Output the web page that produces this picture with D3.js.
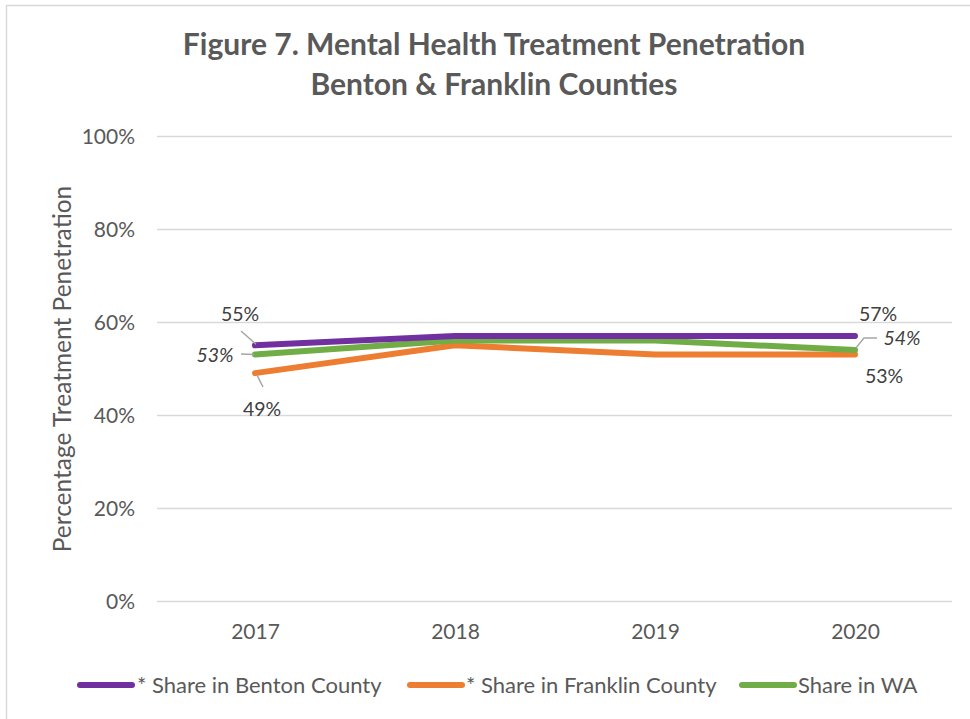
<!DOCTYPE html>
<html><head><meta charset="utf-8">
<script src="https://cdn.jsdelivr.net/npm/d3@7"></script>
<style>body{margin:0;background:#fff}svg{display:block}</style>
</head><body>
<script>
const years = ["2017","2018","2019","2020"];
const benton = [55,57,57,57];
const franklin = [49,55,53,53];
const wa = [53,56,56,54];
const yTicks = [0,20,40,60,80,100];
const seriesNames = ["* Share in Benton County","* Share in Franklin County","Share in WA"];
const colors = ["#7030A0","#ED7D31","#70AD47"];

const W=970,H=719;
const svg=d3.select("body").append("svg").attr("width",W).attr("height",H);
const font="Lato, 'Open Sans', sans-serif";
svg.append("rect").attr("x",6.5).attr("y",5.5).attr("width",1000).attr("height",1000).attr("fill","#fff").attr("stroke","#d9d9d9").attr("stroke-width",1.5);

const x=d3.scalePoint().domain(years).range([255,855]);
const y=d3.scaleLinear().domain([0,100]).range([601,136]);
const gx0=157, gx1=952;

svg.append("text").attr("x",494).attr("y",55).attr("text-anchor","middle").attr("font-family",font).attr("font-weight","bold").attr("font-size",30).attr("fill","#595959").text("Figure 7. Mental Health Treatment Penetration");
svg.append("text").attr("x",494).attr("y",95).attr("text-anchor","middle").attr("font-family",font).attr("font-weight","bold").attr("font-size",30).attr("fill","#595959").text("Benton & Franklin Counties");

// grid
const yAxis=d3.axisLeft(y).tickValues(yTicks).tickFormat(d=>d+"%").tickSize(-(gx1-gx0)).tickPadding(22);
const gy=svg.append("g").attr("transform",`translate(${gx0},0)`).call(yAxis);
gy.select(".domain").remove();
gy.selectAll(".tick line").attr("stroke","#d9d9d9").attr("stroke-width",1.3);
gy.selectAll(".tick text").attr("font-family",font).attr("font-size",21).attr("fill","#595959").attr("dy","0.35em");

const xAxis=d3.axisBottom(x).tickSize(0).tickPadding(0);
const gxA=svg.append("g").attr("transform",`translate(0,632)`).call(xAxis);
gxA.select(".domain").remove();
gxA.selectAll(".tick text").attr("font-family",font).attr("font-size",21).attr("fill","#595959").attr("dy","0.35em");

svg.append("text").attr("transform","translate(62,369) rotate(-90)").attr("text-anchor","middle").attr("font-family",font).attr("font-size",24.5).attr("fill","#595959").attr("dy","0.35em").text("Percentage Treatment Penetration");

const line=d3.line().x((d,i)=>x(years[i])).y(d=>y(d));
const data=[benton,franklin,wa];
[1,2,0].forEach(k=>{
  svg.append("path").datum(data[k]).attr("d",line).attr("fill","none").attr("stroke",colors[k]).attr("stroke-width",6).attr("stroke-linecap","round").attr("stroke-linejoin","round");
});

const lfs=19.5;
const lab=(txt,tx,ty,italic,lx1,ly1,lx2,ly2,lx3,ly3)=>{
  const pts=[[lx1,ly1],[lx2,ly2]]; if(lx3!==undefined) pts.push([lx3,ly3]);
  svg.append("path").attr("d",d3.line()(pts)).attr("fill","none").attr("stroke","#a6a6a6").attr("stroke-width",1.5);
  svg.append("text").attr("x",tx).attr("y",ty).attr("text-anchor","middle").attr("font-family",font).attr("font-size",lfs).attr("font-style",italic?"italic":"normal").attr("fill","#404040").attr("dy","0.35em").text(txt);
};
const X0=x(years[0]),X3=x(years[3]);
lab(benton[0]+"%",240,314,false, 241,331, X0+1,y(benton[0])-1);
lab(wa[0]+"%",215,355,true, 241,354, X0-1,y(wa[0]));
lab(franklin[0]+"%",262,409,false, 263,387, X0+2,y(franklin[0])+2);
svg.append("text").attr("x",878).attr("y",314).attr("text-anchor","middle").attr("font-family",font).attr("font-size",lfs).attr("fill","#404040").attr("dy","0.35em").text(benton[3]+"%");
lab(wa[3]+"%",902,338,true, 877,338, 864,338, X3+1,y(wa[3])-2);
svg.append("text").attr("x",884).attr("y",376).attr("text-anchor","middle").attr("font-family",font).attr("font-size",lfs).attr("fill","#404040").attr("dy","0.35em").text(franklin[3]+"%");

// legend
const leg=[{x:80,tx:137},{x:410,tx:466},{x:742,tx:798}];
leg.forEach((l,i)=>{
  svg.append("line").attr("x1",l.x).attr("x2",l.x+52).attr("y1",685).attr("y2",685).attr("stroke",colors[i]).attr("stroke-width",6).attr("stroke-linecap","round");
  svg.append("text").attr("x",l.tx).attr("y",685).attr("dy","0.35em").attr("font-family",font).attr("font-size",22).attr("fill","#595959").text(seriesNames[i]);
});
</script>
</body></html>
